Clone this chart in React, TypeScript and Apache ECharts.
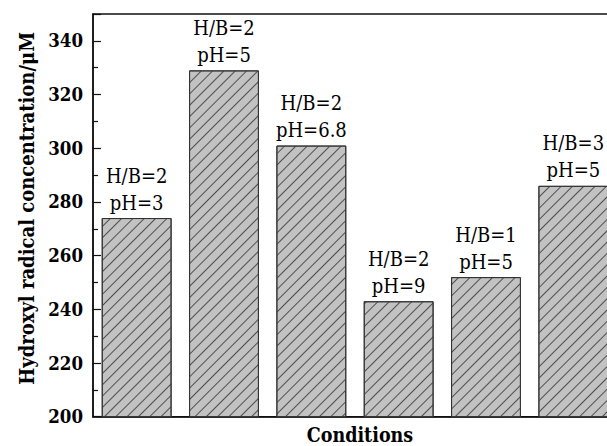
import React, { useEffect, useRef } from "react";
import * as echarts from "echarts";

const hbRatios = ["2", "2", "2", "2", "1", "3"];
const phValues = ["3", "5", "6.8", "9", "5", "5"];
const categories = hbRatios.map((h, i) => `H/B=${h}, pH=${phValues[i]}`);
const concentrations = [274, 329, 301, 243, 252, 286];
const yTicks = [200, 220, 240, 260, 280, 300, 320, 340];

const FONT = "DejaVu Serif Condensed";

export default function App() {
  const ref = useRef<HTMLDivElement>(null);
  useEffect(() => {
    if (!ref.current) return;
    const chart = echarts.init(ref.current, undefined, { renderer: "svg" });
    chart.setOption({
      animation: false,
      backgroundColor: "#ffffff",
      textStyle: { fontFamily: FONT },
      grid: {
        left: 93,
        top: 14,
        height: 402.7,
        width: 524,
        outerBoundsMode: "none",
        containLabel: false,
        show: true,
        borderColor: "#111",
        borderWidth: 1.5,
        backgroundColor: "transparent",
      },
      xAxis: {
        type: "category",
        data: categories,
        axisLine: { show: true, lineStyle: { color: "#111", width: 1.5 } },
        axisTick: { show: false },
        axisLabel: { show: false },
        name: "Conditions",
        nameLocation: "middle",
        nameGap: 8.5,
        nameTextStyle: {
          fontFamily: FONT,
          fontWeight: "bold",
          fontSize: 19.5,
          color: "#000",
          verticalAlign: "top",
          padding: [0, 0, 0, 10],
        },
      },
      yAxis: {
        type: "value",
        min: yTicks[0],
        max: 350,
        interval: 20,
        axisLine: { show: true, lineStyle: { color: "#111", width: 1.5 } },
        axisTick: { show: true, inside: true, length: 8, lineStyle: { color: "#111", width: 1.2 } },
        minorTick: { show: true, splitNumber: 2, length: 5, lineStyle: { color: "#111", width: 1.2 } },
        splitLine: { show: false },
        axisLabel: {
          showMaxLabel: false,
          fontFamily: FONT,
          fontWeight: "bold",
          fontSize: 18.5,
          color: "#000",
          margin: 10,
          formatter: (v: number) => (yTicks.includes(v) ? String(v) : ""),
        },
        name: "Hydroxyl radical concentration/\u03bcM",
        nameLocation: "middle",
        nameGap: 56,
        nameRotate: 90,
        nameTextStyle: {
          fontFamily: FONT,
          fontWeight: "bold",
          fontSize: 20,
          color: "#000",
          padding: [0, 0, 0, 14],
        },
      },
      series: [
        {
          type: "bar",
          data: concentrations,
          barCategoryGap: "20%",
          itemStyle: {
            color: "#c2c2c2",
            borderColor: "#333",
            borderWidth: 1,
            decal: {
              symbol: "rect",
              symbolSize: 1,
              dashArrayX: [1, 0],
              dashArrayY: [1, 6.5],
              rotation: -Math.PI / 4,
              color: "#4d4d4d",
            },
          },
          label: {
            show: true,
            position: "top",
            distance: 2,
            fontFamily: FONT,
            fontSize: 20,
            lineHeight: 27,
            color: "#000",
            formatter: (p: any) => `H/B=${hbRatios[p.dataIndex]}\npH=${phValues[p.dataIndex]}`,
          },
        },
      ],
    });
    return () => chart.dispose();
  }, []);
  return <div ref={ref} style={{ width: 607, height: 446, position: "absolute", left: 0, top: 0 }} />;
}
